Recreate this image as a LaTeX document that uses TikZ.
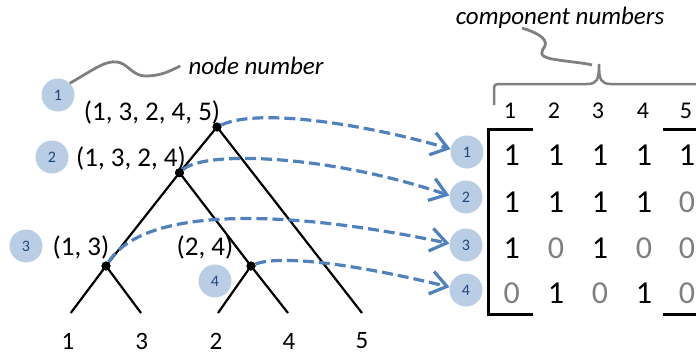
\documentclass[tikz,border=0pt]{standalone}
\usepackage{fontspec}
\setmainfont{Carlito}
\usetikzlibrary{arrows.meta}
\definecolor{circfill}{HTML}{B9CDE5}
\definecolor{circtext}{HTML}{1F497D}
\definecolor{linkblue}{HTML}{4F81BD}
\definecolor{squig}{HTML}{808080}
\definecolor{zerogray}{HTML}{7F7F7F}
\begin{document}
\begin{tikzpicture}[x=1pt,y=-1pt,
  numc/.style={circle, fill=circfill, text=circtext, minimum size=33pt, inner sep=0pt, font=\fontsize{16}{18}\selectfont},
  lbl/.style={inner sep=0pt, font=\fontsize{27}{30}\selectfont},
  leaf/.style={inner sep=0pt, font=\fontsize{25}{30}\selectfont},
  hdr/.style={inner sep=0pt, font=\fontsize{24}{28}\selectfont},
  ent/.style={inner sep=0pt, font=\fontsize{32}{36}\selectfont},
  zer/.style={ent, text=zerogray},
  note/.style={inner sep=0pt, font=\fontsize{25}{30}\selectfont\itshape},
  tdot/.style={circle, fill=black, minimum size=9pt, inner sep=0pt},
  branch/.style={line width=2.2pt},
  link/.style={linkblue, line width=3.2pt, dash pattern=on 11pt off 5pt, -{Straight Barb[length=16pt,width=23pt]}},
  squiggle/.style={squig, line width=2.8pt},
  bracket/.style={line width=3pt}]
\useasboundingbox (0,0) rectangle (696,353);

% tree leaves
\coordinate (L1) at (70.7,313);
\coordinate (L3) at (141,313);
\coordinate (L2) at (218,313);
\coordinate (L4) at (288,313);
\coordinate (L5) at (362,313);

% internal nodes
\node[tdot] (r) at (217,127) {};
\node[tdot] (n2) at (179.5,172.7) {};
\node[tdot] (n3) at (106,266) {};
\node[tdot] (n4) at (251,266) {};

\draw[branch] (r.center) -- (L5);
\draw[branch] (r.center) -- (n2.center);
\draw[branch] (n2.center) -- (n3.center);
\draw[branch] (n2.center) -- (n4.center);
\draw[branch] (n3.center) -- (L1);
\draw[branch] (n3.center) -- (L3);
\draw[branch] (n4.center) -- (L2);
\draw[branch] (n4.center) -- (L4);

% redraw dots on top
\node[tdot] at (r.center) {};
\node[tdot] at (n2.center) {};
\node[tdot] at (n3.center) {};
\node[tdot] at (n4.center) {};

% leaf labels
\node[leaf] (t1) at (68,341) {1};
\node[leaf] (t3) at (141.7,341) {3};
\node[leaf] (t2) at (216,341) {2};
\node[leaf] (t4) at (289,341) {4};
\node[leaf] (t5) at (362,341) {5};

% node labels
\node[lbl] (lr) at (152,112) {(1, 3, 2, 4, 5)};
\node[lbl] (l2) at (131,158) {(1, 3, 2, 4)};
\node[lbl] (l3) at (81,247) {(1, 3)};
\node[lbl] (l4) at (205,247) {(2, 4)};

% node number circles (left)
\node[numc] (a1) at (58,95) {1};
\node[numc] (a2) at (52,157) {2};
\node[numc] (a3) at (26,246) {3};
\node[numc] (a4) at (215,281) {4};

% node number circles (right)
\node[numc] (c1) at (467,152) {1};
\node[numc] (c2) at (466,197) {2};
\node[numc] (c3) at (466,245) {3};
\node[numc] (c4) at (466,290) {4};

% annotation: node number
\node[note] (nn) at (256,66) {node number};
\draw[squiggle] (a1.45) .. controls (90,72) and (105,60) .. (117,62)
  .. controls (127,63) and (133,76) .. (145,76)
  .. controls (160,76) and (168,72) .. ([xshift=-8pt]nn.west);

% dashed links
\draw[link] (r) .. controls (262,106) and (380,128) .. (c1.170);
\draw[link] (n2) .. controls (205,150) and (330,155) .. (c2.175);
\draw[link] (n3) .. controls (145,205) and (290,210) .. (c3.175);
\draw[link] (n4) .. controls (272,257) and (330,258) .. (c4.170);

% matrix brackets
\draw[bracket] (533,129) -- (488.7,129) -- (488.7,314) -- (533,314);
\draw[bracket] (663,129) -- (700,129);
\draw[bracket] (663,314) -- (700,314);

% column headers
\node[hdr] (h1) at (510,111) {1};
\node[hdr] (h2) at (554,111) {2};
\node[hdr] (h3) at (598,111) {3};
\node[hdr] (h4) at (643,111) {4};
\node[hdr] (h5) at (686,111) {5};

% entries
\node[ent] (m11) at (511.7,155) {1};
\node[ent] (m12) at (556,155) {1};
\node[ent] (m13) at (600,155) {1};
\node[ent] (m14) at (644,155) {1};
\node[ent] (m15) at (687,155) {1};

\node[ent] (m21) at (511.7,202) {1};
\node[ent] (m22) at (556,202) {1};
\node[ent] (m23) at (600,202) {1};
\node[ent] (m24) at (644,202) {1};
\node[zer] (m25) at (687,202) {0};

\node[ent] (m31) at (511.7,248) {1};
\node[zer] (m32) at (556,248) {0};
\node[ent] (m33) at (600,248) {1};
\node[zer] (m34) at (644,248) {0};
\node[zer] (m35) at (687,248) {0};

\node[zer] (m41) at (511.7,293) {0};
\node[ent] (m42) at (556,293) {1};
\node[zer] (m43) at (600,293) {0};
\node[ent] (m44) at (644,293) {1};
\node[zer] (m45) at (687,293) {0};

% brace over component numbers
\coordinate (btip) at (599,64);
\draw[squig, line width=2.5pt] (494,105) -- (494,92) .. controls (494,84) .. (502,84) -- (587,84)
  .. controls (597,84) and (599,80) .. (btip)
  .. controls (599,80) and (601,84) .. (611,84) -- (706,84);

% annotation: component numbers
\node[note] (cn) at (560,18) {component numbers};
\draw[squiggle] (522,28) .. controls (535,32) and (548,38) .. (545,46)
  .. controls (541,52) and (538,56) .. (552,59)
  .. controls (570,62) and (585,63) .. (592,65);
\end{tikzpicture}
\end{document}
